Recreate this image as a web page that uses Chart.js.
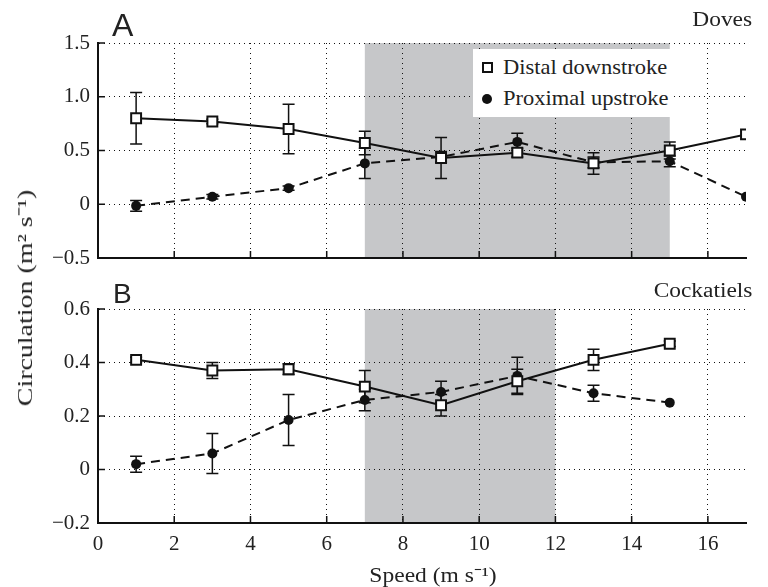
<!DOCTYPE html>
<html>
<head>
<meta charset="utf-8">
<script src="https://cdn.jsdelivr.net/npm/chart.js@4.4.0/dist/chart.umd.min.js"></script>
<style>
body{margin:0;background:#fff;}
#wrap{position:relative;width:768px;height:587px;overflow:hidden;}
canvas{position:absolute;left:0;top:0;}
.lbl{position:absolute;font-family:'Liberation Serif',serif;color:#222;white-space:nowrap;line-height:1;}
.panel{position:absolute;font-family:'Liberation Sans',sans-serif;color:#222;line-height:1;}
#legend{position:absolute;left:473px;top:49px;width:198px;height:68px;background:#fff;}
#legend .row{position:absolute;left:30px;font-family:'Liberation Serif',serif;font-size:21px;color:#222;line-height:1;white-space:nowrap;transform:scaleX(1.07);transform-origin:left center;}
.sq{position:absolute;width:7px;height:7px;border:2px solid #111;background:#fff;}
.dot{position:absolute;width:10px;height:10px;border-radius:50%;background:#111;}
</style>
</head>
<body>
<div id="wrap">
  <canvas id="top" width="768" height="587"></canvas>
  <canvas id="bot" width="768" height="587"></canvas>
  <div class="panel" style="left:112px;top:9px;font-size:32px;">A</div>
  <div class="panel" style="left:113px;top:280px;font-size:28px;">B</div>
  <div class="lbl" style="right:16px;top:9px;font-size:20px;transform:scaleX(1.17);transform-origin:right center;">Doves</div>
  <div class="lbl" style="right:16px;top:280px;font-size:20px;transform:scaleX(1.17);transform-origin:right center;">Cockatiels</div>
  <div class="lbl" style="left:25px;top:298px;font-size:22px;transform:translate(-50%,-50%) rotate(-90deg) scaleX(1.27);">Circulation (m² s⁻¹)</div>
  <div class="lbl" style="left:433px;top:565px;font-size:21px;transform:translateX(-50%) scaleX(1.12);">Speed (m s⁻¹)</div>
  <div id="legend">
    <div class="sq" style="left:9px;top:13px;"></div>
    <div class="row" style="top:8px;">Distal downstroke</div>
    <div class="dot" style="left:9px;top:45px;"></div>
    <div class="row" style="top:39px;">Proximal upstroke</div>
  </div>
</div>
<script>
// flight speed (m/s)
const speedsDoves = [1, 3, 5, 7, 9, 11, 13, 15, 17];
const speedsCock = [1, 3, 5, 7, 9, 11, 13, 15];

// doves
const doveDistal = [0.80, 0.77, 0.70, 0.57, 0.43, 0.48, 0.38, 0.50, 0.65];
const doveDistalErr = [0.24, 0.02, 0.23, 0.11, 0.19, 0.04, 0.10, 0.08, 0];
const doveProximal = [-0.015, 0.07, 0.15, 0.38, 0.44, 0.58, 0.39, 0.40, 0.07];
const doveProximalErr = [0.05, 0.02, 0.02, 0.14, 0.05, 0.08, 0.05, 0.05, 0];

// cockatiels
const cockDistal = [0.41, 0.37, 0.375, 0.31, 0.24, 0.33, 0.41, 0.47];
const cockDistalErr = [0.01, 0.03, 0.02, 0.06, 0.04, 0.045, 0.04, 0.01];
const cockProximal = [0.02, 0.06, 0.185, 0.26, 0.29, 0.35, 0.285, 0.25];
const cockProximalErr = [0.03, 0.075, 0.095, 0.04, 0.04, 0.07, 0.03, 0];

// shaded speed ranges
const bandDoves = [7, 15];
const bandCock = [7, 12];

// tick labels
const xTicks = [0, 2, 4, 6, 8, 10, 12, 14, 16];
const yTicksDoves = [-0.5, 0, 0.5, 1.0, 1.5];
const yTicksCock = [-0.2, 0, 0.2, 0.4, 0.6];

const ink = '#111';
const tickFont = {family: "'Liberation Serif', serif", size: 21};

function fmtY(v) {
  if (v === 0) return '0';
  return (v < 0 ? '\u2212' : '') + Math.abs(v).toFixed(1);
}

function pts(xs, ys) {
  return xs.map((x, i) => ({x: x, y: ys[i]}));
}

const decor = {
  id: 'decor',
  beforeDraw(chart, args, o) {
    const ctx = chart.ctx, a = chart.chartArea, x = chart.scales.x;
    const x0 = x.getPixelForValue(o.band[0]), x1 = x.getPixelForValue(o.band[1]);
    ctx.save();
    ctx.fillStyle = '#c6c7c9';
    ctx.fillRect(x0, a.top, x1 - x0, a.bottom - a.top);
    ctx.restore();
  },
  beforeDatasetsDraw(chart) {
    const ctx = chart.ctx, x = chart.scales.x, y = chart.scales.y;
    ctx.save();
    ctx.strokeStyle = ink;
    ctx.lineWidth = 1.5;
    chart.data.datasets.forEach(ds => {
      ds.data.forEach((p, i) => {
        const e = ds.errors[i];
        if (!e) return;
        const px = x.getPixelForValue(p.x);
        const top = y.getPixelForValue(p.y + e), bot = y.getPixelForValue(p.y - e);
        ctx.beginPath();
        ctx.moveTo(px, top); ctx.lineTo(px, bot);
        ctx.moveTo(px - 6, top); ctx.lineTo(px + 6, top);
        ctx.moveTo(px - 6, bot); ctx.lineTo(px + 6, bot);
        ctx.stroke();
      });
    });
    ctx.restore();
  },
  afterDraw(chart) {
    // ticks pointing inward
    const ctx = chart.ctx, a = chart.chartArea, x = chart.scales.x, y = chart.scales.y;
    ctx.save();
    ctx.strokeStyle = ink;
    ctx.lineWidth = 1.5;
    ctx.beginPath();
    xTicks.forEach(v => {
      const px = x.getPixelForValue(v);
      ctx.moveTo(px, a.bottom); ctx.lineTo(px, a.bottom - 7);
    });
    y.ticks.forEach(t => {
      const py = y.getPixelForValue(t.value);
      ctx.moveTo(a.left, py); ctx.lineTo(a.left + 7, py);
    });
    ctx.stroke();
    ctx.restore();
  }
};

function makeChart(id, xs, distal, distalErr, proximal, proximalErr, band, yTicks, top, bottom, showX) {
  return new Chart(document.getElementById(id), {
    type: 'line',
    data: {
      datasets: [
        {
          label: 'Distal downstroke',
          data: pts(xs, distal),
          errors: distalErr,
          borderColor: ink,
          borderWidth: 2,
          pointStyle: 'rect',
          pointRadius: 7,
          pointBorderWidth: 2,
          pointBackgroundColor: '#fff',
          pointBorderColor: ink
        },
        {
          label: 'Proximal upstroke',
          data: pts(xs, proximal),
          errors: proximalErr,
          borderColor: ink,
          borderWidth: 2,
          borderDash: [9, 6],
          pointStyle: 'circle',
          pointRadius: 5,
          pointBorderWidth: 0,
          pointBackgroundColor: ink
        }
      ]
    },
    options: {
      responsive: false,
      animation: false,
      devicePixelRatio: 1,
      layout: {padding: {top: top, right: 22, left: 0, bottom: 0}},
      plugins: {
        legend: {display: false},
        tooltip: {enabled: false},
        decor: {band: band}
      },
      scales: {
        x: {
          type: 'linear',
          min: 0,
          max: 17,
          afterBuildTicks: s => { s.ticks = xTicks.map(v => ({value: v})); },
          afterFit: s => { s.height = 587 - bottom; s.paddingLeft = 0; s.paddingRight = 0; },
          ticks: {display: showX, font: tickFont, color: '#222', padding: 9, callback: v => String(v)},
          grid: {color: ink, lineWidth: 1, drawTicks: false},
          border: {display: true, color: ink, width: 2, dash: [1, 4]}
        },
        y: {
          min: yTicks[0],
          max: yTicks[yTicks.length - 1],
          afterBuildTicks: s => { s.ticks = yTicks.map(v => ({value: v})); },
          afterFit: s => { s.width = 98; s.paddingTop = 0; s.paddingBottom = 0; },
          ticks: {font: tickFont, color: '#222', padding: 8, callback: fmtY},
          grid: {color: ink, lineWidth: 1, drawTicks: false},
          border: {display: true, color: ink, width: 2, dash: [1, 4]}
        }
      }
    },
    plugins: [decor]
  });
}

makeChart('top', speedsDoves, doveDistal, doveDistalErr, doveProximal, doveProximalErr,
  bandDoves, yTicksDoves, 43, 258, false);
makeChart('bot', speedsCock, cockDistal, cockDistalErr, cockProximal, cockProximalErr,
  bandCock, yTicksCock, 309, 523, true);
</script>
</body>
</html>
